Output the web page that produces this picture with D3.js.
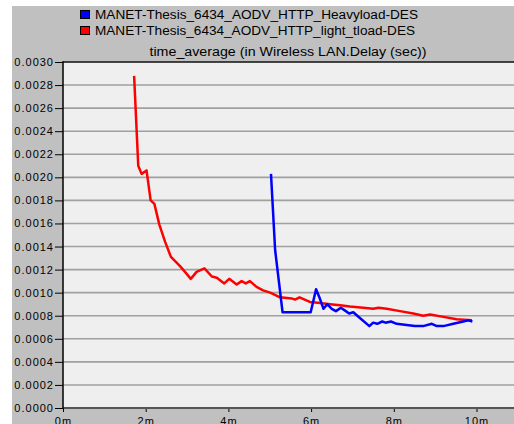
<!DOCTYPE html>
<html><head><meta charset="utf-8">
<script src="https://cdn.jsdelivr.net/npm/d3@7/dist/d3.min.js"></script>
<style>body{margin:0;background:#fff;}svg{display:block;}</style>
</head><body><svg id="c" width="514" height="424"></svg>
<script>
const seriesNames = ["MANET-Thesis_6434_AODV_HTTP_Heavyload-DES","MANET-Thesis_6434_AODV_HTTP_light_tload-DES"];
const seriesColors = ["#0000ff","#ff0000"];
const chartTitle = "time_average (in Wireless LAN.Delay (sec))";
const yTicks = [0,0.0002,0.0004,0.0006,0.0008,0.0010,0.0012,0.0014,0.0016,0.0018,0.0020,0.0022,0.0024,0.0026,0.0028,0.0030];
const xTicks = [0,2,4,6,8,10];
// time in minutes
const heavyT = [5.03,5.13,5.31,5.99,6.12,6.20,6.30,6.39,6.50,6.60,6.72,6.84,6.92,7.02,7.18,7.41,7.50,7.60,7.72,7.80,7.93,8.07,8.31,8.51,8.71,8.92,9.04,9.20,9.44,9.68,9.80,9.90];
const heavyV = [0.00203,0.00137,0.00083,0.00083,0.00103,0.00096,0.00086,0.00090,0.00086,0.00084,0.00087,0.00084,0.00082,0.00083,0.00078,0.00071,0.00074,0.00073,0.00075,0.00074,0.00075,0.00073,0.00072,0.00071,0.00071,0.00073,0.00071,0.00071,0.00073,0.00075,0.00076,0.00075];
const lightT = [1.72,1.82,1.90,2.02,2.12,2.21,2.33,2.47,2.61,2.83,2.95,3.09,3.23,3.42,3.60,3.72,3.90,4.02,4.20,4.32,4.42,4.52,4.68,4.84,5.01,5.25,5.53,5.61,5.72,5.97,6.22,6.46,6.70,6.94,7.26,7.50,7.63,7.83,8.15,8.47,8.71,8.88,9.20,9.52,9.89];
const lightV = [0.00288,0.00210,0.00203,0.00206,0.00180,0.00177,0.00159,0.00144,0.00131,0.00123,0.00118,0.00112,0.00118,0.00121,0.00114,0.00113,0.00108,0.00112,0.00107,0.00110,0.00108,0.00110,0.00105,0.00102,0.00100,0.00096,0.00095,0.00094,0.00096,0.00092,0.00091,0.00090,0.00089,0.00088,0.00087,0.00086,0.00087,0.00086,0.00084,0.00082,0.00080,0.00081,0.00079,0.00077,0.00076];

const svg = d3.select("#c");
const L=63, T=62, R=514, B=408;
const font = "'Liberation Sans', Arial, sans-serif";
svg.append("rect").attr("x",12).attr("y",6).attr("width",502).attr("height",418).attr("fill","#c0c0c0");
svg.append("rect").attr("x",L).attr("y",T).attr("width",R-L).attr("height",B-T).attr("fill","#efefef");

const x = d3.scaleLinear().domain([0,10]).range([L, L+413.5]);
const y = d3.scaleLinear().domain([0,0.003]).range([B,T]);

// grid
svg.append("g").selectAll("line").data(yTicks.filter(d=>d>0 && d<0.003)).join("line")
  .attr("x1",L).attr("x2",R).attr("y1",d=>y(d)).attr("y2",d=>y(d))
  .attr("stroke","#a0a0a0").attr("stroke-width",1.6);

// y axis
const ya = svg.append("g").attr("transform",`translate(${L},0)`)
  .call(d3.axisLeft(y).tickValues(yTicks).tickFormat(d3.format(".4f")).tickSize(8).tickPadding(2));
ya.select(".domain").remove();
ya.selectAll("line").attr("stroke","#000");
ya.selectAll("text").attr("font-family",font).attr("font-size",11).attr("letter-spacing",1).attr("fill","#000").attr("dx",1);

// x axis
const xa = svg.append("g").attr("transform",`translate(0,${B})`)
  .call(d3.axisBottom(x).tickValues(xTicks).tickFormat(d=>d+"m").tickSize(4).tickPadding(5));
xa.select(".domain").remove();
xa.selectAll("line").attr("stroke","#000");
xa.selectAll("text").attr("font-family",font).attr("font-size",11).attr("letter-spacing",1).attr("fill","#000");

// borders
svg.append("line").attr("x1",L).attr("x2",R).attr("y1",B).attr("y2",B).attr("stroke","#555").attr("stroke-width",2);
svg.append("line").attr("x1",L).attr("x2",R).attr("y1",T).attr("y2",T).attr("stroke","#111").attr("stroke-width",1.5);
svg.append("line").attr("x1",L).attr("x2",L).attr("y1",T-0.75).attr("y2",B+1).attr("stroke","#000").attr("stroke-width",1.5);

// lines
const line = d3.line().x(d=>x(d[0])).y(d=>y(d[1]));
const data = [d3.zip(heavyT,heavyV), d3.zip(lightT,lightV)];
svg.append("g").selectAll("path").data([1,0]).join("path")
  .attr("d",i=>line(data[i])).attr("fill","none").attr("stroke",i=>seriesColors[i])
  .attr("stroke-width",2.5).attr("stroke-linejoin","round");

// legend
const lg = svg.append("g");
seriesNames.forEach((n,i)=>{
  lg.append("rect").attr("x",80.5).attr("y",10.5+i*16).attr("width",9).attr("height",8)
    .attr("fill",seriesColors[i]).attr("stroke","#000").attr("stroke-width",1);
  lg.append("text").attr("x",95).attr("y",18.5+i*16).text(n)
    .attr("font-family",font).attr("font-size",12.5).attr("fill","#000")
    .attr("textLength", i===0?323:320).attr("lengthAdjust","spacingAndGlyphs");
});
svg.append("text").attr("x",288).attr("y",55.5).attr("text-anchor","middle").text(chartTitle)
  .attr("font-family",font).attr("font-size",12.5).attr("fill","#000")
  .attr("textLength",277).attr("lengthAdjust","spacingAndGlyphs");
</script></body></html>
